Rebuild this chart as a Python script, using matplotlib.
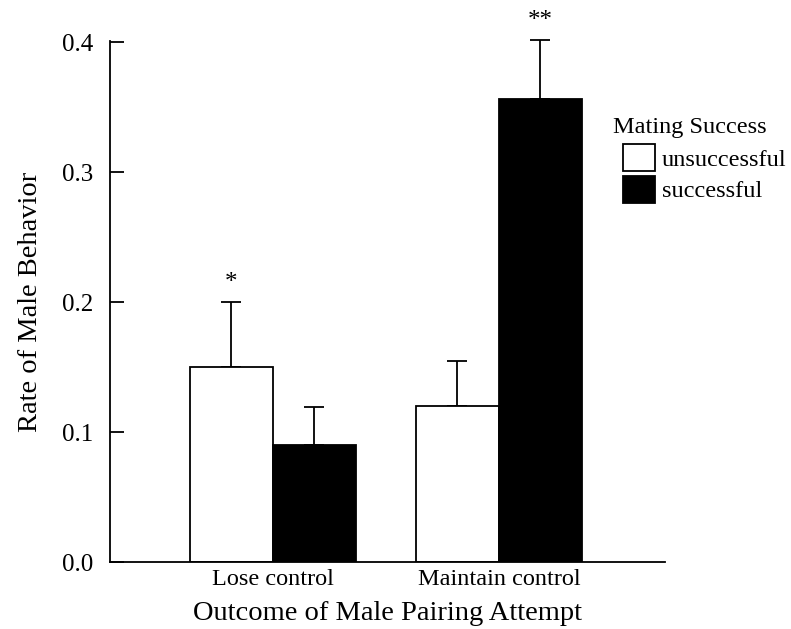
import matplotlib.pyplot as plt
import numpy as np

plt.rcParams['font.family'] = ['Liberation Serif', 'DejaVu Serif']

groups = ["Lose control", "Maintain control"]
series = ["unsuccessful", "successful"]
unsuccessful = [0.15, 0.12]
unsuccessful_err = [0.05, 0.035]
successful = [0.09, 0.356]
successful_err = [0.029, 0.046]
stars_unsuccessful = ["*", ""]
stars_successful = ["", "**"]

fig = plt.figure(figsize=(7.91, 6.29), dpi=100)
ax = fig.add_axes([0.139, 0.1065, 0.702, 0.8285])

x = np.arange(len(groups))
w = 0.367

b1 = ax.bar(x - w / 2, unsuccessful, w, color="white", edgecolor="black", linewidth=1.3,
            label=series[0], zorder=2)
b2 = ax.bar(x + w / 2, successful, w, color="black", edgecolor="black", linewidth=1.3,
            label=series[1], zorder=2)

for xs, vals, errs in [(x - w / 2, unsuccessful, unsuccessful_err), (x + w / 2, successful, successful_err)]:
    ax.errorbar(xs, vals, yerr=[np.zeros(len(errs)), errs], fmt="none", ecolor="black",
                elinewidth=1.3, capsize=7.5, capthick=1.3, clip_on=False, zorder=1)

for xs, vals, errs, stars in [(x - w / 2, unsuccessful, unsuccessful_err, stars_unsuccessful),
                              (x + w / 2, successful, successful_err, stars_successful)]:
    for xi, v, e, s in zip(xs, vals, errs, stars):
        if s:
            ax.text(xi, v + e + 0.006, s, ha="center", va="bottom", fontsize=18)

ax.set_xlim(-0.72, 1.735)
ax.set_ylim(0, 0.401)
ax.set_yticks([0.0, 0.1, 0.2, 0.3, 0.4])
ax.set_yticklabels(["0.0", "0.1", "0.2", "0.3", "0.4"])
ax.set_xticks(x)
ax.set_xticklabels(groups)
ax.tick_params(axis="y", direction="in", length=10, width=1.3, labelsize=18, pad=12)
ax.tick_params(axis="x", length=0, labelsize=17.5, pad=5)

ax.spines["top"].set_visible(False)
ax.spines["right"].set_visible(False)
ax.spines["left"].set_linewidth(1.3)
ax.spines["bottom"].set_linewidth(1.3)

ax.set_xlabel("Outcome of Male Pairing Attempt", fontsize=20.5, labelpad=8)
ax.set_ylabel("Rate of Male Behavior", fontsize=20.5, labelpad=14)

# legend title sits a bit left of the entries
fig.text(613 / 791, 1 - 128 / 629, "Mating Success", fontsize=17.5, ha="left", va="center")
leg = fig.legend(handles=[b1, b2], labels=series, loc="upper left",
                 bbox_to_anchor=(623 / 791, 1 - 144 / 629), frameon=False, fontsize=17.5,
                 handlelength=1.3, handleheight=1.35, handletextpad=0.3,
                 labelspacing=0.18, borderpad=0, borderaxespad=0)

fig.savefig("out.png", dpi=100)
